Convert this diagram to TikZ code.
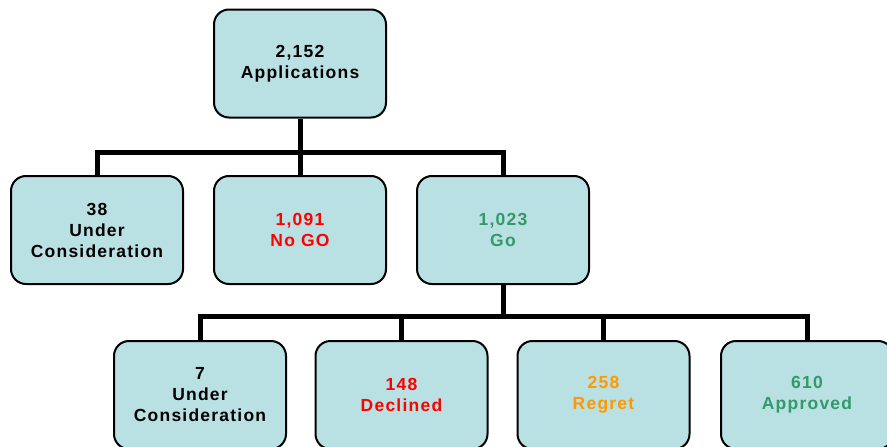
\documentclass[tikz,border=0pt]{standalone}
\usepackage{fontspec}
\setmainfont{Liberation Sans}[LetterSpace=7]
\definecolor{boxfill}{HTML}{B9E0E3}
\definecolor{nogored}{HTML}{FF0000}
\definecolor{gogreen}{HTML}{339966}
\definecolor{regretorange}{HTML}{FF9900}
\tikzset{
  orgbox/.style={draw, line width=2pt, fill=boxfill, rounded corners=15pt,
    minimum width=172pt, minimum height=108pt, align=center,
    font=\fontsize{17.5}{21}\selectfont\bfseries},
  branch/.style={line width=5pt}
}

\begin{document}
\begin{tikzpicture}[x=1pt,y=-1pt]
\useasboundingbox (0,0) rectangle (887,447);
\node[orgbox] (apps) at (300,63.5) {2,152\\Applications};
\node[orgbox] (uc1) at (97,230) {38\\Under\\Consideration};
\node[orgbox, text=nogored] (nogo) at (300,230) {1,091\\No GO};
\node[orgbox, text=gogreen] (go) at (503,230) {1,023\\Go};
\node[orgbox] (uc2) at (200,395) {7\\Under\\Consideration};
\node[orgbox, text=nogored] (declined) at (401.5,395) {148\\Declined};
\node[orgbox, text=regretorange] (regret) at (603.5,395) {258\\Regret};
\node[orgbox, text=gogreen] (approved) at (807,395) {610\\Approved};
\coordinate (split1) at (300,152);
\coordinate (split2) at (503,316);
\draw[branch] (apps.south) -- (nogo.north);
\draw[branch] (uc1.north) |- (split1) -| (go.north);
\draw[branch] (go.south) -- (split2);
\draw[branch] (uc2.north) |- (split2) -| (approved.north);
\draw[branch] (declined.north) -- (declined.north |- split2);
\draw[branch] (regret.north) -- (regret.north |- split2);
\end{tikzpicture}
\end{document}
